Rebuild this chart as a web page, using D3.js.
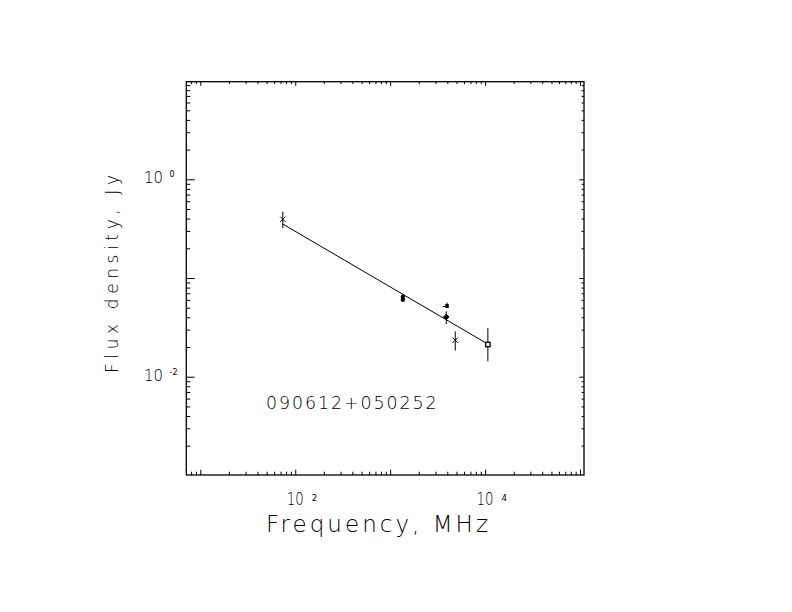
<!DOCTYPE html>
<html>
<head>
<meta charset="utf-8">
<script src="https://cdn.jsdelivr.net/npm/d3@7"></script>
<style>
  body { margin: 0; background: #fff; }
  text { font-family: "DejaVu Sans ExtraLight", "DejaVu Sans", sans-serif; font-weight: 200; fill: #000; }
  text.sup { font-family: "DejaVu Sans", sans-serif; font-weight: normal; }
</style>
</head>
<body>
<svg id="spec" width="792" height="612"></svg>
<script>

// source name
var src_name = "090612+050252";

// measured points, frequency in MHz, flux in Jy
var cross_freq = [74, 4850];
var cross_flux = [0.394, 0.0234];
var cross_lo   = [0.32, 0.0184];
var cross_hi   = [0.47, 0.0288];

var dot_freq = [1360, 1360];
var dot_flux = [0.0645, 0.0603];

var flag_freq = [3950];
var flag_flux = [0.052];

var diam_freq = [3900];
var diam_flux = [0.0403];
var diam_lo   = [0.0342];
var diam_hi   = [0.0458];

var box_freq = [10700];
var box_flux = [0.0212];
var box_lo   = [0.0143];
var box_hi   = [0.0311];

// fitted power law, end points
var fit_freq = [74, 10700];
var fit_flux = [0.352, 0.0214];

// labelled decades
var x_labels = [2, 4];
var y_labels = [0, -2];


// plot box
var bx = {left: 186.3, right: 584, top: 81.7, bottom: 475};

var svg = d3.select("#spec");

var x = d3.scaleLog()
    .domain([Math.pow(10, 0.8525), Math.pow(10, 5.042)])
    .range([bx.left, bx.right]);
var y = d3.scaleLog()
    .domain([Math.pow(10, -2.996), Math.pow(10, 0.989)])
    .range([bx.bottom, bx.top]);

var h = bx.bottom - bx.top;
var w = bx.right - bx.left;

function isMajor(v) {
  var l = Math.log10(v);
  return Math.abs(l - Math.round(l)) < 1e-6;
}

var x_all = x.ticks().filter(function(v) { return v >= x.domain()[0] && v <= x.domain()[1]; });
var y_all = y.ticks().filter(function(v) { return v >= y.domain()[0] && v <= y.domain()[1]; });
var x_major = x_all.filter(isMajor), x_minor = x_all.filter(function(v) { return !isMajor(v); });
var y_major = y_all.filter(isMajor), y_minor = y_all.filter(function(v) { return !isMajor(v); });

// inward ticks, one axis per side and tick kind
function side(axisFn, scale, vals, len, tx, ty) {
  var g = svg.append("g")
      .attr("transform", "translate(" + tx + "," + ty + ")")
      .call(axisFn(scale).tickValues(vals).tickSize(-len).tickFormat(""));
  g.select(".domain").remove();
  g.selectAll("line").attr("stroke", "#000").attr("stroke-width", 1);
}

side(d3.axisBottom, x, x_minor, 3.3, 0, bx.bottom);
side(d3.axisBottom, x, x_major, 5.3, 0, bx.bottom);
side(d3.axisTop, x, x_minor, 2.4, 0, bx.top);
side(d3.axisTop, x, x_major, 4.2, 0, bx.top);
side(d3.axisLeft, y, y_minor, 4, bx.left, 0);
side(d3.axisLeft, y, y_major, 8.3, bx.left, 0);
side(d3.axisRight, y, y_minor, 2.4, bx.right, 0);
side(d3.axisRight, y, y_major, 4.7, bx.right, 0);

// frame
svg.append("rect")
    .attr("x", bx.left).attr("y", bx.top)
    .attr("width", w).attr("height", h)
    .attr("fill", "none").attr("stroke", "#000").attr("stroke-width", 1.3);

// tick labels
x_labels.forEach(function(p) {
  var px = x(Math.pow(10, p));
  svg.append("text").attr("x", px).attr("y", 505)
      .attr("text-anchor", "middle").attr("font-size", 17)
      .attr("textLength", 17).attr("lengthAdjust", "spacingAndGlyphs")
      .text("10");
  svg.append("text").attr("class", "sup").attr("x", px + 16.5).attr("y", 500.5)
      .attr("font-size", 8.5).text(p);
});

y_labels.forEach(function(p) {
  var py = y(Math.pow(10, p));
  svg.append("text").attr("x", 153.5).attr("y", py + 4)
      .attr("text-anchor", "middle").attr("font-size", 15)
      .attr("textLength", 19).attr("lengthAdjust", "spacingAndGlyphs")
      .text("10");
  svg.append("text").attr("class", "sup").attr("x", 169.5).attr("y", py - 2)
      .attr("font-size", 8).text(p < 0 ? "-" + (-p) : p);
});

// axis titles
svg.append("text")
    .attr("x", 266).attr("y", 531.7)
    .attr("font-size", 23)
    .attr("textLength", 222).attr("lengthAdjust", "spacing")
    .text("Frequency, MHz");

svg.append("text")
    .attr("transform", "translate(117.7,373) rotate(-90)")
    .attr("font-size", 17)
    .attr("textLength", 198).attr("lengthAdjust", "spacing")
    .text("Flux density, Jy");

svg.append("text")
    .attr("x", 266).attr("y", 409.3)
    .attr("font-size", 17.4)
    .attr("textLength", 170.7).attr("lengthAdjust", "spacing")
    .text(src_name);

// fit line
var fit = fit_freq.map(function(f, i) { return {f: f, s: fit_flux[i]}; });
svg.append("path")
    .datum(fit)
    .attr("fill", "none").attr("stroke", "#000").attr("stroke-width", 1)
    .attr("d", d3.line().x(function(d) { return x(d.f); }).y(function(d) { return y(d.s); }));

var pts = svg.append("g").attr("stroke", "#000").attr("stroke-width", 1);

function errbar(f, lo, hi) {
  pts.append("line")
      .attr("x1", x(f)).attr("x2", x(f))
      .attr("y1", y(lo)).attr("y2", y(hi));
}

// crosses
cross_freq.forEach(function(f, i) {
  errbar(f, cross_lo[i], cross_hi[i]);
  var cx = x(f), cy = y(cross_flux[i]), r = 2.6;
  pts.append("path")
      .attr("d", "M" + (cx - r) + "," + (cy - r) + "L" + (cx + r) + "," + (cy + r) +
                 "M" + (cx - r) + "," + (cy + r) + "L" + (cx + r) + "," + (cy - r))
      .attr("fill", "none");
});

// filled dots
dot_freq.forEach(function(f, i) {
  pts.append("circle")
      .attr("cx", x(f)).attr("cy", y(dot_flux[i])).attr("r", 2.2)
      .attr("fill", "#000").attr("stroke", "none");
});

// small filled flag
flag_freq.forEach(function(f, i) {
  var cx = x(f), cy = y(flag_flux[i]);
  pts.append("rect")
      .attr("x", cx - 1.5).attr("y", cy - 2).attr("width", 3.5).attr("height", 4)
      .attr("fill", "#000").attr("stroke", "none");
  pts.append("line")
      .attr("x1", cx - 4).attr("x2", cx - 1.5).attr("y1", cy + 0.5).attr("y2", cy + 0.5);
  pts.append("line")
      .attr("x1", cx + 0.3).attr("x2", cx + 0.3).attr("y1", cy - 3.5).attr("y2", cy - 2);
});

// filled diamond
diam_freq.forEach(function(f, i) {
  errbar(f, diam_lo[i], diam_hi[i]);
  var cx = x(f), cy = y(diam_flux[i]), r = 2.8;
  pts.append("path")
      .attr("d", "M" + cx + "," + (cy - r) + "L" + (cx + r) + "," + cy +
                 "L" + cx + "," + (cy + r) + "L" + (cx - r) + "," + cy + "Z")
      .attr("fill", "#000");
});

// open square
box_freq.forEach(function(f, i) {
  errbar(f, box_lo[i], box_hi[i]);
  var cx = x(f), cy = y(box_flux[i]);
  pts.append("rect")
      .attr("x", cx - 2.2).attr("y", cy - 2.2).attr("width", 4.4).attr("height", 4.4)
      .attr("fill", "#fff").attr("stroke-width", 1.3);
});

</script>
</body>
</html>
